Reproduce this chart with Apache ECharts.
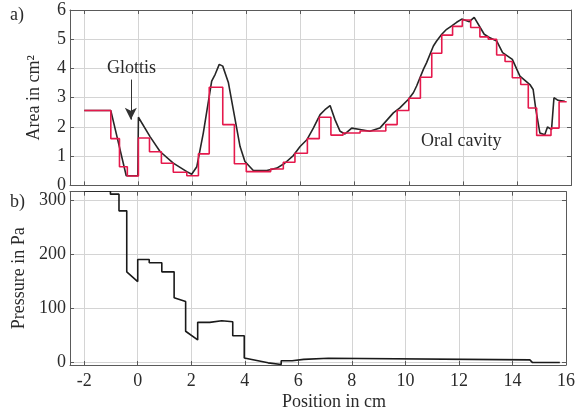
<!DOCTYPE html>
<html>
<head>
<meta charset="utf-8">
<script src="https://cdn.jsdelivr.net/npm/echarts@6/dist/echarts.min.js"></script>
<style>
  html, body { margin: 0; padding: 0; background: #fff; }
  #chart { width: 578px; height: 412px; }
</style>
</head>
<body>
<div id="chart"></div>
<script>
// area function (smooth)
const areaX = [-2.0, -1.02, -0.45, -0.02, 0.0, 0.43, 0.80, 1.29, 1.79, 1.97, 2.16, 2.40, 2.71, 2.84, 2.99, 3.12,
  3.33, 3.51, 3.76, 3.94, 4.25, 4.75, 5.12, 5.40, 5.73, 5.98, 6.23, 6.47, 6.72, 6.90, 7.09, 7.27, 7.46, 7.64,
  7.89, 8.20, 8.56, 8.93, 9.43, 9.67, 9.98, 10.17, 10.29, 10.54, 10.66, 10.91, 11.03, 11.22, 11.40, 11.59,
  11.77, 11.96, 12.02, 12.24, 12.42, 12.79, 12.98, 13.25, 13.47, 13.83, 14.11, 14.48, 14.60, 14.70, 14.85,
  15.03, 15.13, 15.28, 15.37, 15.52, 15.77];
const areaY = [2.56, 2.56, 0.33, 0.33, 2.33, 1.67, 1.16, 0.76, 0.47, 0.38, 0.64, 1.79, 3.57, 3.80, 4.14, 4.08,
  3.51, 2.59, 1.33, 0.82, 0.51, 0.51, 0.59, 0.75, 1.02, 1.33, 1.56, 1.96, 2.42, 2.59, 2.73, 2.25, 1.85, 1.76,
  1.96, 1.91, 1.85, 1.96, 2.48, 2.65, 2.94, 3.17, 3.40, 3.97, 4.20, 4.77, 4.94, 5.17, 5.34, 5.46,
  5.58, 5.69, 5.75, 5.60, 5.75, 5.17, 5.06, 4.94, 4.54, 4.31, 3.74, 3.45, 3.28, 2.59, 1.79,
  1.73, 2.00, 1.91, 3.00, 2.91, 2.88];

// step approximation: section edges and section areas
const stepEdges = [-2.0, -1.02, -0.70, -0.41, 0.0, 0.41, 0.85, 1.29, 1.79, 2.22, 2.62, 3.12, 3.55, 3.99, 4.89,
  5.36, 5.79, 6.25, 6.69, 7.12, 7.57, 8.20, 9.15, 9.57, 10.0, 10.43, 10.85, 11.22, 11.62, 11.98, 12.29,
  12.63, 12.94, 13.25, 13.56, 13.83, 14.14, 14.42, 14.73, 15.26, 15.56, 15.84];
const stepVals = [2.56, 1.60, 0.64, 0.32, 1.62, 1.15, 0.76, 0.45, 0.33, 1.08, 3.36, 2.08, 0.74, 0.47, 0.56,
  0.79, 1.10, 1.60, 2.33, 1.72, 1.79, 1.86, 2.08, 2.56, 2.98, 3.70, 4.52, 5.14, 5.44, 5.66, 5.40,
  5.08, 5.00, 4.46, 4.24, 3.68, 3.45, 2.65, 1.71, 1.96, 2.86];

// pressure along the tract
const pressX = [-2.0, -1.02, -1.02, -0.70, -0.70, -0.41, -0.41, 0.0, 0.0, 0.43, 0.43, 0.90, 0.90, 1.36, 1.36,
  1.79, 1.79, 2.24, 2.24, 2.69, 2.69, 3.14, 3.14, 3.55, 3.55, 3.98, 3.98, 4.87, 4.87, 5.36, 5.36, 5.77,
  5.77, 6.20, 6.20, 7.12, 7.12, 14.65, 14.75, 15.77];
const pressY = [317, 317, 311, 311, 280, 280, 167, 149, 190, 190, 184, 184, 167, 167, 119,
  112, 57, 41, 73.5, 73.5, 76.5, 76.5, 74.7, 74.7, 48.8, 48.8, 7.5, -1.5, 0.5, -4.5, 2.5, 2.5,
  5, 5, 7, 7, 4, 4, -1, -1];

const xTicks = [-2, 0, 2, 4, 6, 8, 10, 12, 14, 16];
const areaTicks = [0, 1, 2, 3, 4, 5, 6];
const pressTicks = [0, 100, 200, 300];

const FONT = "Liberation Serif";
const TXT = "#2b2b2b";
const AXIS = "#5a5a5a";
const GRIDC = "#d4d4d4";

function xAx(grid, bottom, labels) {
  return {
    type: "value", gridIndex: grid, position: bottom ? "bottom" : "top",
    min: -2.53, max: 16,
    axisLine: { show: true, onZero: false, lineStyle: { color: AXIS, width: 1 } },
    axisTick: { show: true, inside: true, length: 4, customValues: xTicks, lineStyle: { color: AXIS } },
    axisLabel: { show: labels, customValues: xTicks, fontFamily: FONT, fontSize: 18, color: TXT, margin: 7 },
    splitLine: { show: bottom, lineStyle: { color: GRIDC, width: 1 } }
  };
}
function yAx(grid, left, min, max, ticks) {
  return {
    type: "value", gridIndex: grid, position: left ? "left" : "right",
    min: min, max: max,
    axisLine: { show: true, onZero: false, lineStyle: { color: AXIS, width: 1 } },
    axisTick: { show: true, inside: true, length: 4, customValues: ticks, lineStyle: { color: AXIS } },
    axisLabel: { show: left, customValues: ticks, fontFamily: FONT, fontSize: 18, color: TXT, margin: 4 },
    splitLine: { show: left, lineStyle: { color: GRIDC, width: 1 } }
  };
}
function label(text, left, top) {
  return { type: "text", left: left, top: top, z: 100, style: { text: text, font: "18px " + FONT, fill: TXT } };
}

const chart = echarts.init(document.getElementById("chart"), null, { renderer: "canvas" });
const yArea = yAx(0, true, 0, 6, areaTicks);
yArea.name = "Area in cm²";
yArea.nameLocation = "middle";
yArea.nameGap = 27;
yArea.nameTextStyle = { fontFamily: FONT, fontSize: 18, color: TXT };
const yPress = yAx(1, true, -5.5, 315.5, pressTicks);
yPress.name = "Pressure in Pa";
yPress.nameLocation = "middle";
yPress.nameGap = 42;
yPress.nameTextStyle = { fontFamily: FONT, fontSize: 18, color: TXT };

chart.setOption({
  animation: false,
  backgroundColor: "#fff",
  grid: [
    { left: 70, right: 7, top: 10, height: 175.4 },
    { left: 70, right: 7, top: 191.7, height: 173.3 }
  ],
  xAxis: [xAx(0, true, false), xAx(0, false, false), xAx(1, true, true), xAx(1, false, false)],
  yAxis: [yArea, yAx(0, false, 0, 6, areaTicks), yPress, yAx(1, false, -5.5, 315.5, pressTicks)],
  graphic: [
    label("a)", 10, 6),
    label("b)", 10, 193),
    label("Glottis", 107, 59),
    label("Oral cavity", 421, 132),
    label("Position in cm", 282, 393)
  ],
  series: [
    {
      type: "line", xAxisIndex: 0, yAxisIndex: 0,
      data: areaX.map((x, i) => [x, areaY[i]]),
      showSymbol: false,
      lineStyle: { color: "#262626", width: 1.6 },
      markLine: {
        silent: true, symbol: ["none", "arrow"], symbolSize: [9, 12],
        label: { show: false },
        lineStyle: { color: "#333", width: 1, type: "solid" },
        data: [[{ coord: [-0.28, 3.62] }, { coord: [-0.28, 2.25] }]]
      }
    },
    {
      type: "line", xAxisIndex: 0, yAxisIndex: 0, step: "end",
      data: stepEdges.map((x, i) => [x, stepVals[Math.min(i, stepVals.length - 1)]]),
      showSymbol: false,
      lineStyle: { color: "#e5194c", width: 1.6 }
    },
    {
      type: "line", xAxisIndex: 2, yAxisIndex: 2,
      data: pressX.map((x, i) => [x, pressY[i]]),
      showSymbol: false,
      lineStyle: { color: "#1a1a1a", width: 1.6 }
    }
  ]
});
</script>
</body>
</html>
